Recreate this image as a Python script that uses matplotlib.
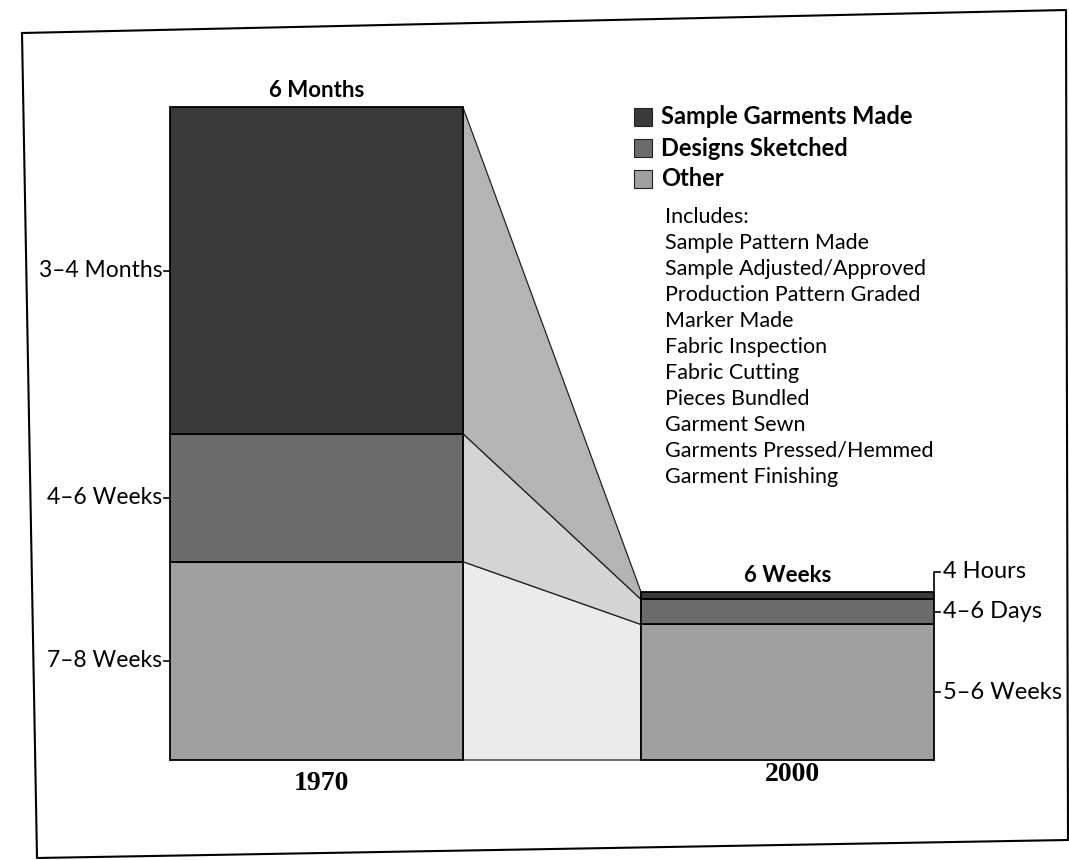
import matplotlib.pyplot as plt
from matplotlib.lines import Line2D
from matplotlib.patches import Rectangle

# data (weeks of lead time, bottom to top)
years = ["1970", "2000"]
other = [7.9, 5.4]
designs = [5.1, 1.0]
sample = [13.0, 0.3]
total_labels = ["6 Months", "6 Weeks"]
left_labels = ["7–8 Weeks", "4–6 Weeks", "3–4 Months"]
right_labels = ["5–6 Weeks", "4–6 Days", "4 Hours"]
legend_labels = ["Sample Garments Made", "Designs Sketched", "Other"]
includes = [
    "Includes:",
    "Sample Pattern Made",
    "Sample Adjusted/Approved",
    "Production Pattern Graded",
    "Marker Made",
    "Fabric Inspection",
    "Fabric Cutting",
    "Pieces Bundled",
    "Garment Sewn",
    "Garments Pressed/Hemmed",
    "Garment Finishing",
]

bar_colors = ["#a0a0a0", "#6b6b6b", "#3a3a3a"]  # other, designs, sample
link_colors = ["#ebebeb", "#d4d4d4", "#b4b4b4"]
sans = "Lato"
serif = "Liberation Serif"

W, H = 1069, 860
fig = plt.figure(figsize=(W / 100, H / 100), dpi=100)
ax = fig.add_axes([0, 0, 1, 1])
ax.axis("off")

# layout: bar centres at 0 and 1, 25.1 px per week, baseline 760 px
px_x = 471.0
px_w = 25.1
base = 760
ax.set_xlim(-316.5 / px_x, (W - 316.5) / px_x)
ax.set_ylim(-(H - base) / px_w, base / px_w)

pos = [0, 1]
width = 293 / px_x
stack = [other, designs, sample]

bottoms = [0.0, 0.0]
edges = []  # cumulative boundaries per year
for vals, col in zip(stack, bar_colors):
    ax.bar(pos, vals, width=width, bottom=bottoms, color=col,
           edgecolor="black", linewidth=1.3, zorder=3)
    edges.append((list(bottoms), [b + v for b, v in zip(bottoms, vals)]))
    bottoms = [b + v for b, v in zip(bottoms, vals)]

# connecting bands between the bars
xl = pos[0] + width / 2
xr = pos[1] - width / 2
for (lo, hi), col in zip(edges, link_colors):
    ax.fill([xl, xl, xr, xr], [lo[0], hi[0], hi[1], lo[1]],
            facecolor=col, edgecolor="#222222", linewidth=0.9, zorder=2)

# totals above bars and years below
for p, t, lab, yr in zip(pos, bottoms, total_labels, years):
    ax.text(p, t + 0.25, lab, ha="center", va="bottom", family=sans,
            fontweight="bold", fontsize=16)
    ax.text(p + 0.01, -0.42 if p == 0 else -0.08, yr, ha="center", va="top",
            family=serif, fontweight="bold", fontsize=20)

# left side ticks and labels (segment midpoints of 1970)
tick = 0.013
x0 = pos[0] - width / 2
for (lo, hi), lab in zip(edges, left_labels):
    mid = (lo[0] + hi[0]) / 2
    ax.plot([x0 - tick, x0], [mid, mid], color="black", lw=1.2)
    ax.text(x0 - tick - 0.003, mid, lab, ha="right", va="center",
            family=sans, fontsize=16.5)

# right side ticks and labels (2000)
x1 = pos[1] + width / 2
for i, ((lo, hi), lab) in enumerate(zip(edges, right_labels)):
    if i == 2:
        ytop = hi[1] + 0.8
        ax.plot([x1, x1, x1 + tick], [hi[1], ytop, ytop], color="black", lw=1.2)
        y = ytop
    else:
        y = (lo[1] + hi[1]) / 2
        ax.plot([x1, x1 + tick], [y, y], color="black", lw=1.2)
    ax.text(x1 + tick + 0.006, y, lab, ha="left", va="center",
            family=sans, fontsize=17)

# legend
for i, (lab, col) in enumerate(zip(legend_labels, bar_colors[::-1])):
    yc = 1 - (117 + 31 * i) / H
    fig.patches.append(Rectangle((634 / W, yc - 9 / H), 18 / W, 18 / H,
                                 transform=fig.transFigure, facecolor=col,
                                 edgecolor="#222222", linewidth=0.8))
    fig.text(661 / W, yc, lab, ha="left", va="center", family=sans,
             fontweight="bold", fontsize=17)

for i, line in enumerate(includes):
    fig.text(665 / W, 1 - (217 + 26 * i) / H, line, ha="left", va="center",
             family=sans, fontsize=15.5)

# slightly skewed frame of the scanned page
frame = [(22, 33), (1066, 10), (1068, 840), (37, 858), (22, 33)]
fig.lines.append(Line2D([p[0] / W for p in frame], [1 - p[1] / H for p in frame],
                        transform=fig.transFigure, color="black", lw=1.5))

fig.savefig("out.png", dpi=100)
